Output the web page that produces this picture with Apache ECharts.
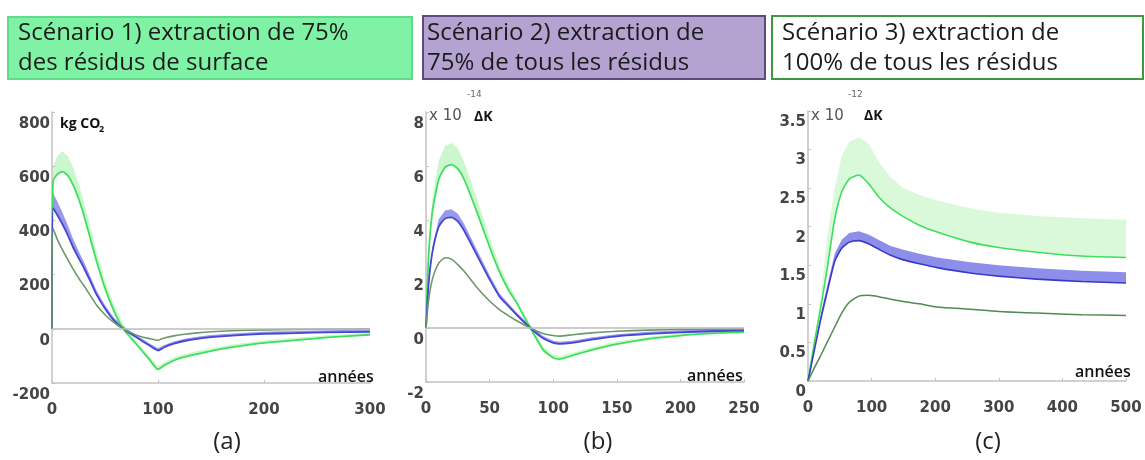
<!DOCTYPE html>
<html>
<head>
<meta charset="utf-8">
<script src="https://cdn.jsdelivr.net/npm/echarts@6/dist/echarts.min.js"></script>
<style>html,body{margin:0;padding:0;background:#fff}#c{width:1145px;height:460px}</style>
</head>
<body>
<div id="c"></div>
<script>
// ---------- Panel (a): kg CO2 ----------
const aYears = [0,1,5,10,15,20,26,30,35,42,50,58,67,75,85,92,100,106,115,125,137,150,170,200,230,260,300];
const aGreen = [0,545,570,580,565,530,470,420,350,250,150,70,0,-36,-82,-114,-150,-135,-117,-104,-93,-82,-68,-52,-42,-32,-22];
const aGreenSpread = [0,55,68,75,72,65,55,50,45,38,30,24,18,15,13,12,12,12,12,11,11,10,10,9,9,8,8];
const aBlue = [0,445,420,385,345,300,255,225,185,126,75,33,0,-20,-45,-62,-80,-68,-55,-45,-37,-31,-25,-19,-16,-13,-11];
const aBlueSpread = [0,55,50,42,36,30,25,22,19,15,12,10,9,8,8,8,8,8,8,8,8,8,8,8,8,8,8];
const aDark = [0,370,330,290,255,220,182,160,130,88,52,25,0,-16,-30,-36,-42,-34,-26,-20,-15,-11,-7,-4,-2,-1,0];
// ---------- Panel (b): Delta K x 1e-14 ----------
const bYears = [0,2,5,10,15,20,25,30,40,50,58,65,71,82,92,100,105,115,130,150,175,200,225,250];
const bGreen = [0,2.6,4.3,5.5,5.95,6.05,5.9,5.5,4.3,3.0,2.05,1.4,0.95,0,-0.8,-1.1,-1.15,-1.02,-0.82,-0.6,-0.4,-0.28,-0.2,-0.15];
const bGreenSpread = [0,0.3,0.5,0.7,0.8,0.8,0.75,0.65,0.5,0.35,0.25,0.2,0.15,0.12,0.12,0.1,0.1,0.1,0.1,0.1,0.08,0.08,0.08,0.08];
const bBlue = [0,1.6,2.8,3.75,4.05,4.1,3.95,3.6,2.7,1.8,1.15,0.8,0.5,0,-0.38,-0.55,-0.59,-0.55,-0.43,-0.31,-0.22,-0.16,-0.12,-0.1];
const bBlueSpread = [0,0.1,0.2,0.28,0.3,0.3,0.28,0.25,0.2,0.15,0.12,0.1,0.08,0.08,0.08,0.08,0.08,0.08,0.08,0.08,0.08,0.08,0.08,0.08];
const bDark = [0,1.0,1.8,2.4,2.6,2.55,2.35,2.1,1.5,1.0,0.67,0.45,0.28,0,-0.2,-0.28,-0.3,-0.25,-0.18,-0.12,-0.08,-0.05,-0.04,-0.03];
// ---------- Panel (c): Delta K x 1e-12 ----------
const cYears = [0,10,20,30,42,53,65,80,95,113,130,150,175,203,255,300,360,430,500];
const cGreen = [0,0.5,0.95,1.45,2.1,2.45,2.62,2.67,2.56,2.37,2.24,2.13,2.02,1.93,1.8,1.73,1.67,1.62,1.6];
const cGreenSpread = [0,0.05,0.15,0.4,0.4,0.47,0.48,0.49,0.52,0.45,0.4,0.37,0.39,0.41,0.44,0.45,0.47,0.49,0.49];
const cBlue = [0,0.4,0.8,1.15,1.55,1.72,1.8,1.82,1.78,1.7,1.63,1.57,1.52,1.47,1.4,1.36,1.32,1.29,1.27];
const cBlueSpread = [0,0.03,0.06,0.08,0.1,0.11,0.12,0.12,0.12,0.12,0.12,0.13,0.13,0.13,0.14,0.14,0.14,0.14,0.14];
const cDark = [0,0.17,0.33,0.5,0.7,0.88,1.02,1.1,1.11,1.09,1.06,1.03,1.0,0.96,0.93,0.9,0.88,0.86,0.85];

// ---------- Tick settings ----------
const xTicks = [{min:0,max:300,interval:100},{min:0,max:250,interval:50},{min:0,max:500,interval:100}];
const yTicks = [{min:-200,max:800,interval:200},{min:-2,max:8,interval:2},{min:0,max:3.5,interval:0.5}];
const headers = [
  ['Scénario 1) extraction de 75%','des résidus de surface'],
  ['Scénario 2) extraction de','75% de tous les résidus'],
  ['Scénario 3) extraction de','100% de tous les résidus']
];
const panelLetters = ['(a)','(b)','(c)'];

const GREEN = '#3ee05b', BLUE = '#4646d6', DARK = '#6c986c';
const GREEN_BAND = 'rgba(130,236,140,0.42)', BLUE_BAND = 'rgba(85,85,222,0.6)';

const pairs = (xs, ys) => xs.map((x, i) => [x, ys[i]]);

function lineSeries(gi, years, vals, color, width, zeroLine) {
  const s = {type:'line', xAxisIndex:gi, yAxisIndex:gi, data:pairs(years, vals), showSymbol:false,
    smooth:0.2, z:3, lineStyle:{color:color, width:width}, silent:true};
  if (zeroLine) {
    s.markLine = {silent:true, symbol:'none', label:{show:false},
      lineStyle:{color:'#bdbdbd', width:1.5, type:'solid'}, data:[{yAxis:0}]};
  }
  return s;
}
function bandSeries(gi, years, center, spread, color) {
  return {type:'custom', xAxisIndex:gi, yAxisIndex:gi, z:1, silent:true, clip:true,
    data: years.map((t, i) => [t, center[i], center[i] + spread[i]]),
    encode:{x:0, y:[1, 2]},
    renderItem: function (params, api) {
      if (params.dataIndex !== 0) return null;
      const upper = years.map((t, i) => api.coord([t, center[i] + spread[i]]));
      const lower = years.map((t, i) => api.coord([t, center[i]])).reverse();
      return {type:'polygon', shape:{points:upper.concat(lower)}, style:{fill:color, stroke:null}};
    }};
}

const grids = [
  {left:52, top:112, width:318, height:271},
  {left:426, top:112, width:318, height:270},
  {left:808, top:111, width:318, height:270}
];
const axisCommon = {
  axisLine:{show:true, onZero:false, lineStyle:{color:'#c2c2c2', width:1.5}},
  axisTick:{show:true, inside:true, length:3, lineStyle:{color:'#c2c2c2'}},
  splitLine:{show:false}
};
const labelFont = {color:'#454545', fontFamily:'DejaVu Sans', fontWeight:'bold', fontSize:15};

const xAxis = xTicks.map((t, i) => Object.assign({type:'value', gridIndex:i, min:t.min, max:t.max, interval:t.interval,
  axisLabel:Object.assign({margin:20}, labelFont)}, axisCommon));
const yLineH = [24, 24, 22];
const yAxis = yTicks.map((t, i) => Object.assign({type:'value', gridIndex:i, min:t.min, max:t.max, interval:t.interval,
  axisLabel:Object.assign({margin:2, verticalAlign:'top', lineHeight:yLineH[i]}, labelFont)}, axisCommon));

const series = [
  bandSeries(0, aYears, aGreen, aGreenSpread, GREEN_BAND),
  bandSeries(0, aYears, aBlue, aBlueSpread, BLUE_BAND),
  lineSeries(0, aYears, aGreen, GREEN, 1.8, false),
  lineSeries(0, aYears, aBlue, BLUE, 1.8, false),
  lineSeries(0, aYears, aDark, DARK, 1.6, true),
  bandSeries(1, bYears, bGreen, bGreenSpread, GREEN_BAND),
  bandSeries(1, bYears, bBlue, bBlueSpread, BLUE_BAND),
  lineSeries(1, bYears, bGreen, GREEN, 1.8, false),
  lineSeries(1, bYears, bBlue, BLUE, 1.8, false),
  lineSeries(1, bYears, bDark, DARK, 1.6, true),
  bandSeries(2, cYears, cGreen, cGreenSpread, 'rgba(150,238,150,0.35)'),
  bandSeries(2, cYears, cBlue, cBlueSpread, 'rgba(80,80,222,0.65)'),
  lineSeries(2, cYears, cGreen, GREEN, 1.6, false),
  lineSeries(2, cYears, cBlue, '#3a3ac8', 1.6, false),
  lineSeries(2, cYears, cDark, '#4f8a4f', 1.5, false)
];

// ---------- Annotations ----------
const boxes = [
  {x:8, y:17, w:404, h:62, fill:'#80f2a6', stroke:'#5fdc8b', tx:18},
  {x:423, y:16, w:342, h:63, fill:'#b4a2d0', stroke:'#5d4b80', tx:427},
  {x:772, y:16, w:371, h:63, fill:'#ffffff', stroke:'#3f9a3f', tx:782}
];
const graphic = [];
boxes.forEach((b, i) => {
  graphic.push({type:'rect', shape:{x:b.x, y:b.y, width:b.w, height:b.h}, style:{fill:b.fill, stroke:b.stroke, lineWidth:2}, silent:true});
  headers[i].forEach((line, j) => {
    graphic.push({type:'text', style:{x:b.tx, y:33 + j*30, text:line, font:'24px "Open Sans"', fill:'#1b1b1b',
      align:'left', verticalAlign:'middle', textAlign:'left', textVerticalAlign:'middle'}, silent:true});
  });
});
function txt(x, y, text, font, fill, align) {
  graphic.push({type:'text', z:10, style:{x:x, y:y, text:text, font:font, fill:fill || '#111',
    align:align || 'left', verticalAlign:'middle', textAlign:align || 'left', textVerticalAlign:'middle'}, silent:true});
}
// unit labels
txt(60, 124, 'kg CO', 'bold 14px "Open Sans"', '#111');
txt(99, 129, '2', 'bold 9px "Open Sans"', '#111');
txt(429, 116, 'x 10', '15px "DejaVu Sans"', '#555');
txt(467, 95, '-14', '9px "DejaVu Sans"', '#666');
txt(474, 117, 'ΔK', 'bold 14px "Open Sans"', '#111');
txt(811, 116, 'x 10', '15px "DejaVu Sans"', '#555');
txt(848, 95, '-12', '9px "DejaVu Sans"', '#666');
txt(864, 116, 'ΔK', 'bold 14px "Open Sans"', '#111');
// axis names
txt(318, 377, 'années', '600 16px "Open Sans"', '#111');
txt(687, 376, 'années', '600 16px "Open Sans"', '#111');
txt(1075, 372, 'années', '600 16px "Open Sans"', '#111');
// panel letters
txt(227, 442, panelLetters[0], '24px "Open Sans"', '#222', 'center');
txt(598, 442, panelLetters[1], '24px "Open Sans"', '#222', 'center');
txt(988, 442, panelLetters[2], '24px "Open Sans"', '#222', 'center');

const chart = echarts.init(document.getElementById('c'), null, {renderer:'canvas'});
chart.setOption({animation:false, grid:grids, xAxis:xAxis, yAxis:yAxis, series:series, graphic:graphic});
</script>
</body>
</html>
